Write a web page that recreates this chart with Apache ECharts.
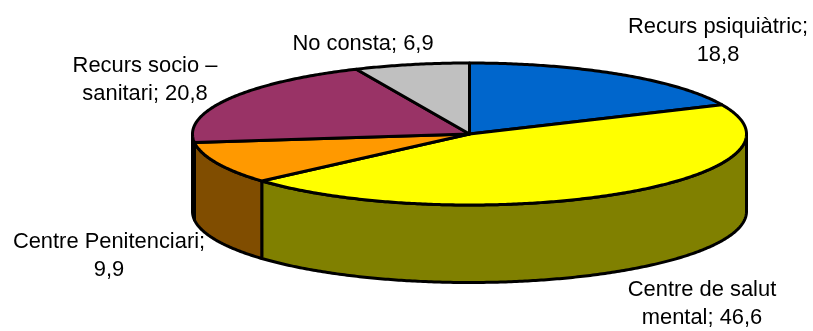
<!DOCTYPE html>
<html>
<head>
<meta charset="utf-8">
<style>
html,body{margin:0;padding:0;background:#fff}
#chart{width:813px;height:331px}
</style>
<script src="https://cdn.jsdelivr.net/npm/echarts@6/dist/echarts.min.js"></script>
</head>
<body>
<div id="chart"></div>
<script>
// Clockwise from twelve o'clock
const categories = ['Recurs psiquiàtric', 'Centre de salut mental', 'Centre Penitenciari', 'Recurs socio – sanitari', 'No consta'];
const values = [18.8, 46.6, 9.9, 20.8, 6.9];
const labelTexts = ['Recurs psiquiàtric;\n18,8', 'Centre de salut\nmental; 46,6', 'Centre Penitenciari;\n9,9', 'Recurs socio –\nsanitari; 20,8', 'No consta; 6,9'];

const topColors = ['#0066CC', '#FFFF00', '#FF9900', '#993366', '#C0C0C0'];
const sideColors = ['#003366', '#808000', '#804D00', '#4D1A33', '#606060'];
const labelCentres = [[718, 40.5], [702, 303.5], [109, 255.5], [145, 79.5], [363, 43.5]];

const CX = 469.5, CY = 134, RX = 277, RY = 71, DEPTH = 77.5;
const total = values.reduce((a, b) => a + b, 0);
const toAngle = v => v / total * Math.PI * 2;
const rim = (a, dy) => [CX + RX * Math.sin(a), CY - RY * Math.cos(a) + dy];

function arcPoints(a0, a1, dy) {
  const pts = [];
  const n = Math.max(2, Math.ceil(Math.abs(a1 - a0) / 0.01));
  for (let i = 0; i <= n; i++) pts.push(rim(a0 + (a1 - a0) * i / n, dy));
  return pts;
}

const stroke = { stroke: '#000', lineWidth: 3, lineJoin: 'round' };

function renderSlice(params, api) {
  const i = params.dataIndex;
  const start = toAngle(values.slice(0, i).reduce((a, b) => a + b, 0));
  const end = start + toAngle(api.value(1));
  const children = [];

  // Outer wall: only the part of the rim that faces the viewer
  const w0 = Math.max(start, Math.PI / 2), w1 = Math.min(end, Math.PI * 1.5);
  if (w1 > w0) {
    children.push({
      type: 'polygon',
      z2: 1,
      shape: { points: arcPoints(w0, w1, 0).concat(arcPoints(w1, w0, DEPTH)) },
      style: Object.assign({ fill: sideColors[i] }, stroke)
    });
  }

  // Top face
  children.push({
    type: 'polygon',
    z2: 2,
    shape: { points: [[CX, CY]].concat(arcPoints(start, end, 0)) },
    style: Object.assign({ fill: topColors[i] }, stroke)
  });

  children.push({
    type: 'text',
    z2: 3,
    style: {
      text: labelTexts[i],
      x: labelCentres[i][0],
      y: labelCentres[i][1],
      align: 'center',
      verticalAlign: 'middle',
      font: '21.9px "Liberation Sans", Arial, sans-serif',
      lineHeight: 28,
      fill: '#000'
    }
  });
  return { type: 'group', children };
}

const chart = echarts.init(document.getElementById('chart'));
chart.setOption({
  animation: false,
  backgroundColor: '#fff',
  series: [{
    type: 'custom',
    coordinateSystem: 'none',
    silent: true,
    renderItem: renderSlice,
    data: categories.map((c, i) => [c, values[i]])
  }]
});
</script>
</body>
</html>
